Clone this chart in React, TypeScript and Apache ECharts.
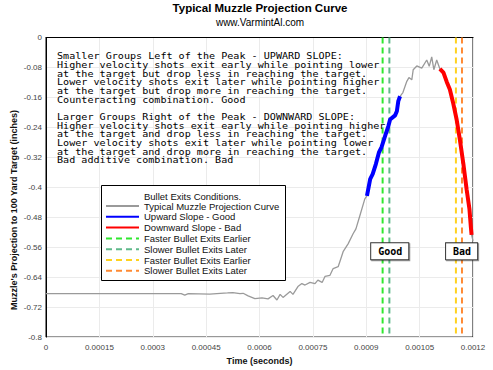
import React, { useEffect, useRef } from "react";
import * as echarts from "echarts";

// Muzzle projection curve (time in seconds, projection in inches)
const curveTime = [
  0, 0.0001, 0.0002, 0.0003, 0.00038, 0.00039, 0.0004, 0.00046, 0.00051, 0.000525,
  0.000545, 0.000554, 0.000568, 0.000587, 0.000607, 0.000624, 0.000638, 0.000649, 0.000658, 0.000666,
  0.000686, 0.000694, 0.000708, 0.000719, 0.000728, 0.000742, 0.000756, 0.000764, 0.000776, 0.000784,
  0.000798, 0.000807, 0.000821, 0.000826, 0.000835, 0.000849, 0.000863, 0.000871, 0.000882, 0.000896,
  0.000902, 0.000911, 0.000918, 0.000927, 0.000936, 0.000943, 0.000953, 0.000962, 0.000967, 0.000981,
  0.000986, 0.00099, 0.000995, 0.001003, 0.001014, 0.00102, 0.001028, 0.001032, 0.001042, 0.001056,
  0.00107, 0.001077, 0.001084, 0.00109, 0.001098, 0.001107, 0.001117, 0.001126, 0.001135, 0.001144,
  0.001154, 0.001163, 0.001173, 0.001182, 0.00119, 0.001194, 0.001196, 0.0012,
];
const curveValue = [
  -0.684, -0.684, -0.684, -0.684, -0.684, -0.688, -0.684, -0.685, -0.682, -0.681,
  -0.684, -0.683, -0.69, -0.697, -0.695, -0.698, -0.689, -0.701, -0.686, -0.694,
  -0.678, -0.686, -0.665, -0.657, -0.661, -0.654, -0.657, -0.648, -0.654, -0.638,
  -0.635, -0.617, -0.612, -0.598, -0.572, -0.551, -0.524, -0.511, -0.476, -0.431,
  -0.423, -0.378, -0.365, -0.338, -0.306, -0.293, -0.263, -0.237, -0.219, -0.208,
  -0.197, -0.17, -0.157, -0.147, -0.117, -0.107, -0.113, -0.086, -0.076, -0.082,
  -0.06, -0.077, -0.052, -0.086, -0.06, -0.084, -0.094, -0.118, -0.139, -0.174,
  -0.219, -0.272, -0.338, -0.405, -0.458, -0.506, -0.527, -0.543,
];

// Highlighted slope ranges (seconds)
const upwardSlopeRange = [0.000902, 0.000995];
const downwardSlopeRange = [0.001107, 0.001196];

// Bullet exit time markers
const exitNames = [
  "Faster Bullet Exits Earlier",
  "Slower Bullet Exits Later",
  "Faster Bullet Exits Earlier",
  "Slower Bullet Exits Later",
];
const exitTimes = [0.000946, 0.000965, 0.001152, 0.001169];
const exitColors = ["#2fe82f", "#5fb98a", "#ffd21f", "#ff8a33"];

// Good / Bad annotation labels
const noteLabels = ["Good", "Bad"];
const noteTimes = [0.000966, 0.001168];
const noteValues = [-0.571, -0.571];

const xMin = 0;
const xMax = 0.0012;
const xInterval = 0.00015;
const yMin = -0.8;
const yMax = 0;
const yInterval = 0.08;

const noteText = [
  "Smaller Groups Left of the Peak - UPWARD SLOPE:",
  "Higher velocity shots exit early while pointing lower",
  "at the target but drop less in reaching the target.",
  "Lower velocity shots exit later while pointing higher",
  "at the target but drop more in reaching the target.",
  "Counteracting combination. Good",
  "",
  "Larger Groups Right of the Peak - DOWNWARD SLOPE:",
  "Higher velocity shots exit early while pointing higher",
  "at the target and drop less in reaching the target.",
  "Lower velocity shots exit later while pointing lower",
  "at the target and drop more in reaching the target.",
  "Bad additive combination. Bad",
].join("\n");

const SANS = '"Liberation Sans", Arial, sans-serif';
const MONO = '"DejaVu Sans Mono", monospace';

export default function App() {
  const ref = useRef<HTMLDivElement>(null);
  useEffect(() => {
    if (!ref.current) return;
    const chart = echarts.init(ref.current, null, { renderer: "svg" });
    const curve = curveTime.map((t, i) => [t, curveValue[i]]);
    const inRange = (r: number[]) => curve.filter((p) => p[0] >= r[0] - 1e-12 && p[0] <= r[1] + 1e-12);

    const exitSeries = exitTimes.map((t, i) => ({
      name: exitNames[i] + "#" + i,
      type: "line",
      data: [
        [t, yMax],
        [t, yMin],
      ],
      symbol: "none",
      silent: true,
      lineStyle: { color: exitColors[i], width: 2, type: [6, 4] },
      itemStyle: { color: exitColors[i] },
      z: 2,
    }));

    chart.setOption({
      animation: false,
      backgroundColor: "#fff",
      title: {
        text: "Typical Muzzle Projection Curve",
        subtext: "www.VarmintAl.com",
        left: 260,
        textAlign: "center",
        top: 2,
        padding: 0,
        itemGap: 3,
        textStyle: { fontFamily: SANS, fontSize: 11.5, fontWeight: "bold", color: "#000" },
        subtextStyle: { fontFamily: SANS, fontSize: 10, color: "#000" },
      },
      grid: {
        left: 46,
        right: 20,
        top: 37.5,
        bottom: 31,
        show: true,
        borderColor: "#000",
        borderWidth: 1,
        backgroundColor: "transparent",
      },
      xAxis: {
        type: "value",
        min: xMin,
        max: xMax,
        interval: xInterval,
        name: "Time (seconds)",
        nameLocation: "middle",
        nameGap: 16,
        nameTextStyle: { fontFamily: SANS, fontSize: 9, fontWeight: "bold", color: "#111" },
        axisLine: { show: true, lineStyle: { color: "#000", width: 1 } },
        axisTick: { show: false },
        axisLabel: {
          fontFamily: SANS,
          fontSize: 8,
          color: "#444",
          margin: 6,
          formatter: (v: number) => String(Number(v.toFixed(6))),
        },
        splitLine: { show: true, lineStyle: { color: "#ebebeb", width: 1 } },
      },
      yAxis: {
        type: "value",
        min: yMin,
        max: yMax,
        interval: yInterval,
        axisLine: { show: true, lineStyle: { color: "#000", width: 1 } },
        axisTick: { show: false },
        axisLabel: {
          fontFamily: SANS,
          fontSize: 8,
          color: "#444",
          margin: 4,
          formatter: (v: number) => String(Number(v.toFixed(2))),
        },
        splitLine: { show: true, lineStyle: { color: "#ebebeb", width: 1 } },
      },
      legend: {
        orient: "vertical",
        left: 105,
        top: 201,
        padding: 0,
        itemWidth: 33,
        itemHeight: 10,
        itemGap: 0.8,
        z: 6,
        selectedMode: false,
        itemStyle: { opacity: 0 },
        data: [
          "Typical Muzzle Projection Curve",
          "Upward Slope - Good",
          "Downward Slope - Bad",
          ...exitNames.map((n, i) => n + "#" + i),
        ],
        formatter: (name: string) => name.replace(/#\d+$/, ""),
        textStyle: { fontFamily: SANS, fontSize: 9.5, color: "#111", lineHeight: 10 },
      },
      graphic: [
        {
          type: "rect",
          z: 5,
          shape: { x: 101.5, y: 185.5, width: 184, height: 95 },
          style: { fill: "#fff", stroke: "#000", lineWidth: 1 },
          silent: true,
        },
        {
          type: "text",
          z: 6,
          x: 144,
          y: 196,
          style: {
            text: "Bullet Exits Conditions.",
            font: `9.5px ${SANS}`,
            fill: "#111",
            verticalAlign: "middle",
          },
          silent: true,
        },
        {
          type: "text",
          z: 6,
          x: 57,
          y: 51.8,
          scaleX: 1.176,
          style: {
            text: noteText,
            font: `8.6px ${MONO}`,
            fill: "#000",
            lineHeight: 8.67,
            verticalAlign: "top",
          },
          silent: true,
        },
        {
          type: "text",
          z: 6,
          x: 13.5,
          y: 210,
          rotation: Math.PI / 2,
          style: {
            text: "Muzzle's Projection to 100 Yard Target (inches)",
            font: `bold 9px ${SANS}`,
            fill: "#111",
            align: "center",
            verticalAlign: "middle",
          },
          silent: true,
        },
      ],
      series: [
        ...exitSeries,
        {
          name: "Typical Muzzle Projection Curve",
          type: "line",
          data: curve,
          symbol: "none",
          silent: true,
          lineStyle: { color: "#9a9a9a", width: 1.3 },
          itemStyle: { color: "#9a9a9a" },
          z: 3,
        },
        {
          name: "Upward Slope - Good",
          type: "line",
          data: inRange(upwardSlopeRange),
          symbol: "none",
          silent: true,
          lineStyle: { color: "#0000ff", width: 4 },
          itemStyle: { color: "#0000ff" },
          z: 3,
        },
        {
          name: "Downward Slope - Bad",
          type: "line",
          data: inRange(downwardSlopeRange),
          symbol: "none",
          silent: true,
          lineStyle: { color: "#ff0000", width: 4 },
          itemStyle: { color: "#ff0000" },
          z: 3,
          markPoint: {
            symbol: "rect",
            symbolSize: 1,
            silent: true,
            itemStyle: { color: "rgba(0,0,0,0)" },
            label: {
              show: true,
              position: "inside",
              formatter: "{b}",
              fontFamily: MONO,
              fontSize: 10,
              fontWeight: "bold",
              color: "#000",
              lineHeight: 11,
              backgroundColor: "#fff",
              borderColor: "#333",
              borderWidth: 1,
              padding: [3, 6, 2, 7],
              shadowColor: "rgba(0,0,0,0.4)",
              shadowOffsetX: 1,
              shadowOffsetY: 1,
              shadowBlur: 1,
            },
            data: noteLabels.map((n, i) => ({ name: n, coord: [noteTimes[i], noteValues[i]] })),
          },
        },
      ],
    });
    return () => chart.dispose();
  }, []);
  return (
    <div
      ref={ref}
      style={{ position: "fixed", left: 0, top: 0, width: 493, height: 370, background: "#fff" }}
    />
  );
}
